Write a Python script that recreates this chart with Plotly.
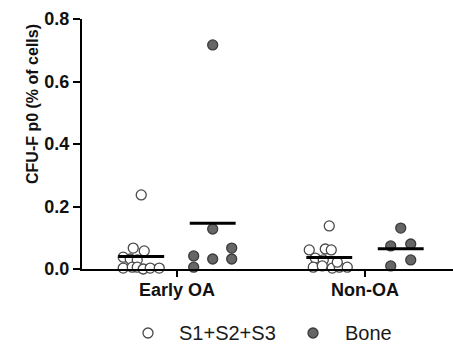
import plotly.graph_objects as go

# ---- data ----
categories = ["Early OA", "Non-OA"]
series_names = ["S1+S2+S3", "Bone"]

early_s = [0.237, 0.067, 0.058, 0.038, 0.032, 0.029, 0.003, 0.006, 0.006, 0.0, 0.003, 0.003]
early_s_jit = [0, -8, 3, -18, -11, -4, -18, -9, -4, 2, 9, 18]
early_bone = [0.717, 0.128, 0.067, 0.042, 0.032, 0.032, 0.006]
early_bone_jit = [0, 0, 19, -19, 0, 19, -19]

non_s = [0.138, 0.061, 0.064, 0.061, 0.035, 0.029, 0.006, 0.010, 0.003, 0.006, 0.006, 0.022]
non_s_jit = [0, -20, -4, 2, -14, -6, -16, -7, 3, 10, 18, 8]
non_bone = [0.131, 0.074, 0.080, 0.029, 0.010]
non_bone_jit = [0, -10, 10, 10, -10]

y_ticks = [0.0, 0.2, 0.4, 0.6, 0.8]
y_tick_text = ["0.0", "0.2", "0.4", "0.6", "0.8"]

# ---- styling ----
JIT = 1 / 188.0          # jitter units -> category units
GROUP_OFF = 0.19         # series offset within a category
HALF_MEAN = 0.122        # half width of mean line
FONT = "Liberation Sans, Arial, sans-serif"
PLOT_L, PLOT_W, PLOT_B, PLOT_H = 82, 371, 269, 250

def px_x(p):
    return (p - PLOT_L) / PLOT_W

def px_y(p):
    return (PLOT_B - p) / PLOT_H

groups = [
    (0, -GROUP_OFF, early_s, early_s_jit, 0),
    (0, GROUP_OFF, early_bone, early_bone_jit, 1),
    (1, -GROUP_OFF, non_s, non_s_jit, 0),
    (1, GROUP_OFF, non_bone, non_bone_jit, 1),
]

fills = ["white", "#666666"]
edges = ["#4a4a4a", "#3a3a3a"]

fig = go.Figure()
for cat_i, off, vals, jit, s in groups:
    center = cat_i + off
    xs = [center + j * JIT for j in jit]
    fig.add_trace(go.Scatter(
        x=xs, y=vals, mode="markers",
        marker=dict(size=10, color=fills[s], line=dict(color=edges[s], width=1.3)),
        name=series_names[s], showlegend=False, cliponaxis=False,
    ))
    m = sum(vals) / len(vals)
    fig.add_trace(go.Scatter(
        x=[center - HALF_MEAN, center + HALF_MEAN], y=[m, m], mode="lines",
        line=dict(color="black", width=3), showlegend=False, hoverinfo="skip",
        cliponaxis=False,
    ))

# manual legend
legend_marker_px = [148, 313]
legend_text_px = [177, 343]
legend_y_px = 333
shapes = []
annotations = []
for s in range(2):
    shapes.append(dict(
        type="circle", xref="paper", yref="paper",
        xsizemode="pixel", ysizemode="pixel",
        xanchor=px_x(legend_marker_px[s]), yanchor=px_y(legend_y_px),
        x0=-5, x1=5, y0=-5, y1=5,
        fillcolor=fills[s], line=dict(color=edges[s], width=1.3),
    ))
    annotations.append(dict(
        text=series_names[s], xref="paper", yref="paper",
        x=px_x(legend_text_px[s]), y=px_y(legend_y_px),
        xanchor="left", yanchor="middle", showarrow=False,
        font=dict(size=20, family=FONT, color="#1a1a1a"),
    ))

annotations.append(dict(
    text="<b>CFU-F p0 (% of cells)</b>", xref="paper", yref="paper",
    x=px_x(33), y=px_y(104), xanchor="center", yanchor="middle",
    textangle=-90, showarrow=False, font=dict(size=16, family=FONT, color="#111111"),
))

fig.update_layout(
    width=453, height=347,
    margin=dict(l=82, r=0, t=19, b=78, autoexpand=False),
    paper_bgcolor="white", plot_bgcolor="white",
    font=dict(family=FONT, color="black"),
    showlegend=False,
    shapes=shapes,
    annotations=annotations,
)

fig.update_xaxes(
    range=[-0.505, 1.468], tickmode="array", tickvals=[0, 1], ticktext=categories,
    showline=True, linecolor="black", linewidth=2, ticks="outside", ticklen=6,
    tickwidth=2, tickcolor="black", showgrid=False, zeroline=False,
    ticklabelstandoff=-3, automargin=False,
    tickfont=dict(size=18, family=FONT, weight="bold", color="#111111"),
)
fig.update_yaxes(
    range=[0, 0.8], tickmode="array", tickvals=y_ticks, ticktext=y_tick_text,
    showline=True, linecolor="black", linewidth=2, ticks="outside", ticklen=7,
    tickwidth=2, tickcolor="black", showgrid=False, zeroline=False,
    ticklabelstandoff=0, automargin=False,
    tickfont=dict(size=18, family=FONT, weight="bold", color="#111111"),
)

fig.write_html(
    "out.html",
    config={"displayModeBar": False},
    post_script="document.body.style.margin='0';document.body.style.overflow='hidden';",
)
